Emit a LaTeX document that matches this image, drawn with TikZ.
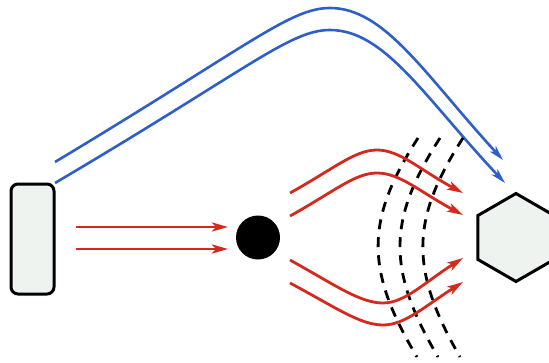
\documentclass[tikz,border=0pt]{standalone}
\usetikzlibrary{arrows.meta,shapes.geometric}
\definecolor{boxfill}{HTML}{EEF3F0}
\definecolor{beamred}{HTML}{D42A1E}
\definecolor{beamblue}{HTML}{2E5FC8}
\tikzset{
  objbox/.style={draw=black,line width=3pt,fill=boxfill,rounded corners=7pt,minimum width=43pt,minimum height=110pt,inner sep=0pt},
  hexbox/.style={draw=black,line width=3pt,fill=boxfill,regular polygon,regular polygon sides=6,shape border rotate=30,minimum size=88pt,inner sep=0pt},
  ball/.style={circle,fill=black,minimum size=44pt,inner sep=0pt},
  redray/.style={draw=beamred,line width=2.8pt,-{Stealth[length=16pt,width=9pt,inset=4pt]}},
  blueray/.style={draw=beamblue,line width=2.6pt,-{Stealth[length=15pt,width=8pt,inset=4pt]}},
  wave/.style={draw=black,line width=2.8pt,dash pattern=on 10pt off 8pt}
}
\begin{document}
\begin{tikzpicture}[x=1pt,y=-1pt]
\useasboundingbox (0,0) rectangle (549,362);
\node[objbox] (src) at (32.5,239) {};
\node[ball] (scat) at (258,237.5) {};
\node[hexbox] (det) at (516,237.5) {};
% free ends
\coordinate (b1s) at (55,162);
\coordinate (b1e) at (503,160);
\coordinate (b2s) at (55,183);
\coordinate (b2e) at (505,183);
\coordinate (s1s) at (76,227);
\coordinate (s1e) at (228,227);
\coordinate (s2s) at (76,249);
\coordinate (s2e) at (228,249);
\coordinate (u1s) at (290,193);
\coordinate (u1e) at (463,193);
\coordinate (u2s) at (290,216);
\coordinate (u2e) at (463,215);
\coordinate (l1s) at (290,260);
\coordinate (l1e) at (463,258);
\coordinate (l2s) at (290,283);
\coordinate (l2e) at (463,282);
% blue rays
\draw[blueray] (b1s) .. controls (250,45) and (290,8) .. (330,8) .. controls (385,8) and (425,75) .. (b1e);
\draw[blueray] (b2s) .. controls (250,68) and (290,30) .. (330,30) .. controls (385,30) and (425,98) .. (b2e);
% straight red rays
\draw[redray] (s1s) -- (s1e);
\draw[redray] (s2s) -- (s2e);
% wave fronts
\draw[wave] (418,138) .. controls (365,220) and (365,270) .. (417,357);
\draw[wave] (440,138) .. controls (387,220) and (387,270) .. (438,357);
\draw[wave] (463,138) .. controls (410,220) and (410,270) .. (460,357);
% scattered red rays
\draw[redray] (u1s) .. controls (335,168) and (355,150) .. (377,150) .. controls (400,150) and (420,170) .. (u1e);
\draw[redray] (u2s) .. controls (335,191) and (355,173) .. (377,173) .. controls (400,173) and (420,192) .. (u2e);
\draw[redray] (l1s) .. controls (335,285) and (360,303) .. (383,303) .. controls (405,303) and (425,282) .. (l1e);
\draw[redray] (l2s) .. controls (335,307) and (360,325) .. (383,325) .. controls (405,325) and (425,306) .. (l2e);
\end{tikzpicture}
\end{document}
